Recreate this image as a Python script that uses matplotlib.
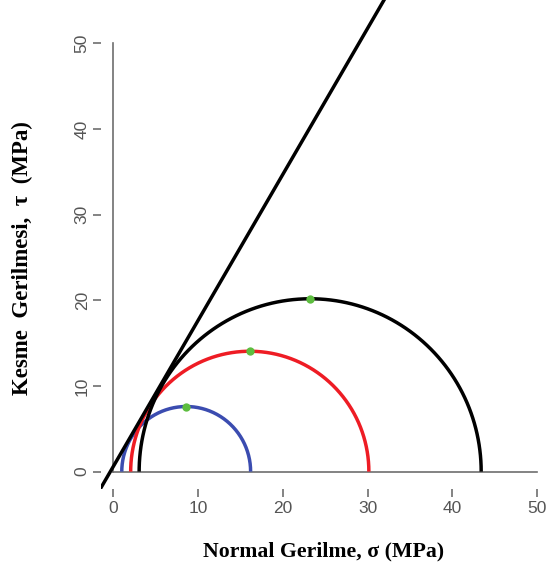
import matplotlib.pyplot as plt
import numpy as np

# Mohr circles: minor and major principal stresses (MPa)
sigma3 = [1.0, 2.05, 3.05]
sigma1 = [16.2, 30.15, 43.4]
colors = ['#3b4cb0', '#ee1c24', '#000000']

# failure envelope: tau = c + sigma * tan(phi)
cohesion = 0.6
phi_deg = 59.6

ticks = [0, 10, 20, 30, 40, 50]
gray = '#6e6e6e'

fig = plt.figure(figsize=(5.49, 5.71), dpi=100)
ax = fig.add_axes([0.1832, 0.144, 0.8168, 0.856])
ax.set_xlim(-1.5, 51.4)
ax.set_ylim(-2.0, 55.04)

th = np.linspace(0, np.pi, 300)
for s3, s1, col in zip(sigma3, sigma1, colors):
    c = (s1 + s3) / 2
    r = (s1 - s3) / 2
    ax.plot(c + r*np.cos(th), r*np.sin(th), color=col, lw=2.5, zorder=3,
            solid_capstyle='butt')
    ax.plot(c, r, 'o', color='#5dbd3f', ms=6, mec='none', zorder=5)

ax.axline((0, cohesion), slope=np.tan(np.radians(phi_deg)), color='black',
          lw=2.5, zorder=4)

# R-style axes: lines only over tick range
for s in ax.spines.values():
    s.set_visible(False)
ax.plot([0, 50], [0, 0], color=gray, lw=1.2, zorder=2, clip_on=False)
ax.plot([0, 0], [0, 50], color=gray, lw=1.2, zorder=2, clip_on=False)
ax.set_xticks(ticks)
ax.set_yticks(ticks)
ax.tick_params(direction='out', length=5.8, width=1.2, color=gray,
               labelcolor='#555555', labelsize=12.5)
ax.tick_params(axis='x', pad=3)
ax.tick_params(axis='y', pad=2)
ax.set_yticklabels([str(t) for t in ticks], rotation=90, va='center')
ax.set_xticklabels([str(t) for t in ticks])
for t in ax.get_xticklabels() + ax.get_yticklabels():
    t.set_fontfamily('Liberation Sans')

fig.text(0.040, 0.548, 'Kesme  Gerilmesi,  τ  (MPa)', rotation=90, ha='center',
         va='center', fontsize=16.5, fontweight='bold', family='Liberation Serif')
fig.text(0.590, 0.035, 'Normal Gerilme, σ (MPa)', ha='center', va='center',
         fontsize=15.7, fontweight='bold', family='Liberation Serif')

fig.savefig('out.png', dpi=100)
